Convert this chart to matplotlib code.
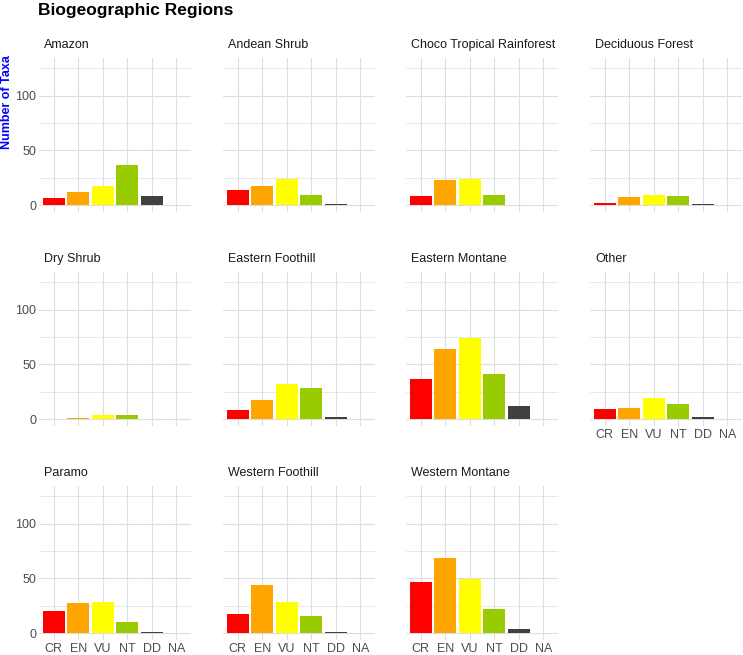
import matplotlib
matplotlib.use("Agg")
import matplotlib.pyplot as plt

# IUCN categories and colours
categories = ["CR", "EN", "VU", "NT", "DD", "NA"]
cat_colors = ["#FF0000", "#FFA500", "#FFFF00", "#99CC00", "#404040", "#808080"]

regions = ["Amazon", "Andean Shrub", "Choco Tropical Rainforest", "Deciduous Forest",
           "Dry Shrub", "Eastern Foothill", "Eastern Montane", "Other",
           "Paramo", "Western Foothill", "Western Montane"]

amazon = [6, 12, 17, 37, 8, 0]
andean_shrub = [14, 17, 24, 9, 1, 0]
choco = [8, 23, 24, 9, 0, 0]
deciduous = [2, 7, 9, 8, 1, 0]
dry_shrub = [0, 1, 4, 4, 0, 0]
eastern_foothill = [8, 17, 32, 28, 2, 0]
eastern_montane = [37, 64, 74, 41, 12, 0]
other = [9, 10, 19, 14, 2, 0]
paramo = [20, 27, 28, 10, 1, 0]
western_foothill = [17, 44, 28, 16, 1, 0]
western_montane = [47, 69, 49, 22, 4, 0]

counts = [amazon, andean_shrub, choco, deciduous, dry_shrub, eastern_foothill,
          eastern_montane, other, paramo, western_foothill, western_montane]

W, H = 743, 655
plt.rcParams['font.family'] = ['Liberation Sans Narrow', 'Liberation Sans', 'DejaVu Sans']

fig = plt.figure(figsize=(W / 100, H / 100), dpi=100)

col_left = [39, 223, 406, 590]
row_top = [58, 272, 486]
pw, ph = 152, 154
grid_col = "#DEDEDE"

x = list(range(1, len(categories) + 1))

for i, name in enumerate(regions):
    r, c = divmod(i, 4)
    left, top = col_left[c], row_top[r]
    ax = fig.add_axes([left / W, 1 - (top + ph) / H, pw / W, ph / H])
    ax.set_xlim(0.4, 6.6)
    ax.set_ylim(-6.4, 134.4)
    ax.set_axisbelow(True)
    ax.set_yticks([0, 50, 100])
    ax.set_yticks([25, 75, 125], minor=True)
    ax.set_xticks(x)
    ax.grid(True, which="major", color=grid_col, lw=0.8)
    ax.grid(True, which="minor", axis="y", color=grid_col, lw=0.5)
    for s in ax.spines.values():
        s.set_visible(False)
    ax.tick_params(length=0, which="both", labelsize=9, colors="#4D4D4D", pad=2)
    ax.bar(x, counts[i], width=0.9, color=cat_colors, linewidth=0)

    if c == 0:
        ax.set_yticklabels(["0", "50", "100"])
    else:
        ax.set_yticklabels([])
    bottom_of_col = (r == 2) or (r == 1 and c == 3)
    if bottom_of_col:
        ax.set_xticklabels(categories)
    else:
        ax.set_xticklabels([])

    fig.text((left + 5) / W, 1 - (top - 13) / H, name, fontsize=9,
             color="#1A1A1A", ha="left", va="center")

fig.text(38 / W, 1 - 11 / H, "Biogeographic Regions", fontsize=12.5,
         fontweight="bold", ha="left", va="center")
fig.text(7 / W, 1 - 102 / H, "Number of Taxa", fontsize=9, fontweight="bold",
         color="#0000FF", rotation=90, ha="center", va="center")

fig.savefig("out.png", dpi=100)
